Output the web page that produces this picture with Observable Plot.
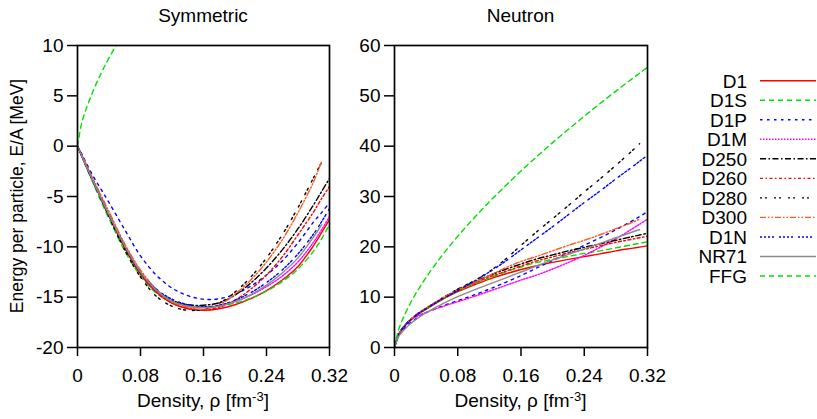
<!DOCTYPE html>
<html><head><meta charset="utf-8">
<script src="https://cdn.jsdelivr.net/npm/d3@7"></script>
<script src="https://cdn.jsdelivr.net/npm/@observablehq/plot@0.6"></script>
<style>
body{margin:0;background:#fff;}
#chart{position:relative;width:817px;height:419px;font-family:"Liberation Sans",Arial,Helvetica,sans-serif;}
#chart svg{position:absolute;top:0;overflow:visible;}
</style></head><body><div id="chart"></div>
<script>
// ---- data ----
const density = [0, 0.005, 0.01, 0.02, 0.03, 0.04, 0.06, 0.08, 0.10, 0.12, 0.14, 0.16, 0.18, 0.20, 0.22, 0.24, 0.26, 0.28, 0.30, 0.31, 0.32];
const models = ["D1","D1S","D1P","D1M","D250","D260","D280","D300","D1N","NR71","FFG"];
const xTicks = [0, 0.08, 0.16, 0.24, 0.32];
const symTicks = [-20, -15, -10, -5, 0, 5, 10];
const neuTicks = [0, 10, 20, 30, 40, 50, 60];

// Symmetric matter E/A [MeV]
const symD1   = [0, -0.9, -1.8, -3.5, -5.2, -6.9, -10.1, -12.7, -14.5, -15.6, -16.15, -16.3, -16.15, -15.75, -15.15, -14.35, -13.3, -11.95, -9.85, -8.6, -7.3];
const symD1S  = [0, -0.9, -1.9, -3.7, -5.5, -7.2, -10.4, -12.9, -14.6, -15.5, -15.9, -16.0, -15.9, -15.6, -15.1, -14.4, -13.45, -12.2, -10.4, -9.2, -7.8];
const symD1P  = [0, -0.7, -1.5, -3.0, -4.3, -5.6, -8.3, -10.9, -12.8, -14.1, -14.85, -15.2, -15.15, -14.7, -13.9, -12.8, -11.4, -9.6, -7.5, -6.6, -5.6];
const symD1M  = [0, -0.9, -1.8, -3.5, -5.2, -6.9, -10.0, -12.6, -14.4, -15.4, -15.9, -16.0, -15.85, -15.45, -14.8, -13.95, -12.9, -11.5, -9.5, -8.3, -7.0];
const symD250 = [0, -0.9, -1.8, -3.5, -5.2, -6.9, -10.0, -12.6, -14.3, -15.3, -15.75, -15.8, -15.55, -14.8, -13.6, -12.1, -10.3, -8.2, -5.8, -4.5, -3.2];
const symD260 = [0, -0.9, -1.8, -3.5, -5.2, -6.9, -10.1, -12.7, -14.5, -15.6, -16.1, -16.25, -16.0, -15.3, -14.2, -12.8, -11.0, -8.8, -6.5, -5.2, -4.0];
const symD280 = [0, -0.9, -1.8, -3.6, -5.3, -7.0, -10.3, -13.0, -14.9, -15.9, -16.3, -16.2, -15.6, -14.5, -13.0, -11.1, -8.8, -6.1, -3.1, -1.6, null];
const symD300 = [0, -0.8, -1.6, -3.3, -4.9, -6.5, -9.7, -12.3, -14.2, -15.4, -16.0, -16.2, -15.75, -14.7, -13.3, -11.5, -9.3, -6.6, -3.5, -1.5, null];
const symD1N  = [0, -0.9, -1.8, -3.5, -5.2, -6.8, -9.9, -12.5, -14.2, -15.2, -15.75, -15.95, -15.8, -15.3, -14.55, -13.55, -12.3, -10.7, -8.7, -7.5, -6.2];
const symNR71 = [0, -0.9, -1.8, -3.5, -5.2, -6.8, -9.9, -12.5, -14.3, -15.4, -15.9, -16.05, -15.9, -15.45, -14.75, -13.8, -12.6, -11.1, -9.0, -7.8, null];
const symFFG  = [0, 2.19, 3.48, 5.52, 7.24, 8.77, 11.49, null, null, null, null, null, null, null, null, null, null, null, null, null, null];

// Neutron matter E/A [MeV]
const neuD1   = [0, 2.4, 3.7, 5.4, 6.6, 7.6, 9.5, 11.1, 12.4, 13.6, 14.6, 15.5, 16.25, 16.9, 17.5, 18.05, 18.6, 19.2, 19.7, 19.95, 20.2];
const neuD1S  = [0, 2.4, 3.7, 5.4, 6.6, 7.6, 9.5, 11.2, 12.6, 13.8, 15.0, 16.0, 16.9, 17.5, 18.1, 18.7, 19.2, 19.8, 20.4, 20.7, 21.0];
const neuD1P  = [0, 2.2, 3.4, 4.9, 6.0, 6.9, 8.2, 9.3, 10.4, 11.6, 12.9, 14.3, 15.8, 17.3, 18.8, 20.3, 21.8, 23.4, 25.1, 26.0, 27.0];
const neuD1M  = [0, 2.6, 3.8, 5.4, 6.3, 7.0, 8.1, 9.1, 10.1, 11.2, 12.3, 13.4, 14.4, 15.6, 16.9, 18.3, 19.9, 21.6, 23.5, 24.5, 25.5];
const neuD250 = [0, 2.4, 3.8, 5.5, 6.8, 7.8, 9.7, 11.5, 13.0, 14.3, 15.5, 16.6, 17.6, 18.4, 19.2, 19.9, 20.6, 21.3, 22.0, 22.35, 22.7];
const neuD260 = [0, 2.4, 3.7, 5.4, 6.7, 7.7, 9.6, 11.3, 12.7, 14.0, 15.1, 16.2, 17.2, 18.0, 18.8, 19.5, 20.2, 20.9, 21.5, 21.8, 22.1];
const neuD280 = [0, 2.4, 3.8, 5.5, 6.8, 7.8, 9.8, 11.6, 13.2, 15.1, 17.5, 20.3, 23.0, 25.6, 28.2, 30.9, 33.5, 36.2, 39.0, 40.5, null];
const neuD300 = [0, 2.4, 3.8, 5.5, 6.8, 7.8, 9.8, 11.4, 12.9, 14.3, 15.8, 17.1, 18.1, 19.2, 20.3, 21.3, 22.4, 23.6, 24.8, 25.5, null];
const neuD1N  = [0, 2.4, 3.7, 5.4, 6.7, 7.7, 9.6, 11.3, 13.1, 15.0, 17.1, 19.4, 21.7, 24.0, 26.4, 28.8, 31.1, 33.5, 35.8, 37.0, 38.2];
const neuNR71 = [0, 2.1, 3.1, 4.7, 5.9, 6.9, 8.6, 10.1, 11.4, 12.6, 13.8, 15.0, 16.2, 17.4, 18.5, 19.6, 20.7, 21.8, 22.9, 23.4, null];
const neuFFG  = [0, 3.48, 5.52, 8.77, 11.49, 13.92, 18.24, 22.09, 25.63, 28.95, 32.08, 35.07, 37.93, 40.70, 43.36, 45.95, 48.47, 50.93, 53.32, 54.50, 55.67];

const symSeries = {D1: symD1, D1S: symD1S, D1P: symD1P, D1M: symD1M, D250: symD250, D260: symD260, D280: symD280, D300: symD300, D1N: symD1N, NR71: symNR71, FFG: symFFG};
const neuSeries = {D1: neuD1, D1S: neuD1S, D1P: neuD1P, D1M: neuD1M, D250: neuD250, D260: neuD260, D280: neuD280, D300: neuD300, D1N: neuD1N, NR71: neuNR71, FFG: neuFFG};

// ---- styles ----
const lineStyle = {
  D1:   {stroke: "#ff0000", dash: null},
  D1S:  {stroke: "#00e000", dash: "5,4"},
  D1P:  {stroke: "#0000ff", dash: "2.5,4.5"},
  D1M:  {stroke: "#ff00ff", dash: "1.5,1.5"},
  D250: {stroke: "#000000", dash: "6,2.5,1.5,2.5"},
  D260: {stroke: "#ff0000", dash: "3,2.5,1.5,2.5"},
  D280: {stroke: "#000000", dash: "2,3,2,7"},
  D300: {stroke: "#ff5a1e", dash: "6,2,1.5,2,1.5,2"},
  D1N:  {stroke: "#0000ff", dash: "2,2,2,2,2,2,2,5"},
  NR71: {stroke: "#8c8c8c", dash: null},
  FFG:  {stroke: "#00e000", dash: "5,4"}
};
const FONT = '"Liberation Sans", Arial, Helvetica, sans-serif';
const chart = document.getElementById("chart");

function panel({series, yDomain, yTicks, left, width, marginLeft, marginRight, title, yLabel}) {
  const marks = [];
  for (const m of models) {
    const rows = [];
    series[m].forEach((v, i) => { if (v != null) rows.push({rho: density[i], E: v}); });
    const st = lineStyle[m];
    marks.push(Plot.line(rows, {x: "rho", y: "E", stroke: st.stroke, strokeWidth: 1.4,
      strokeDasharray: st.dash || undefined, curve: "catmull-rom", clip: true}));
  }
  marks.push(Plot.frame({stroke: "black", strokeWidth: 1.7}));
  marks.push(Plot.axisX({ticks: xTicks, tickFormat: d => String(d), tickSize: 9, tickPadding: 12, label: null, strokeWidth: 1.5}));
  marks.push(Plot.axisY({ticks: yTicks, tickFormat: d => String(d), tickSize: 10, tickPadding: 4, label: null, strokeWidth: 1.5}));
  const svg = Plot.plot({
    width, height: 419, marginLeft, marginRight, marginTop: 45, marginBottom: 72,
    x: {domain: [0, 0.32]}, y: {domain: yDomain},
    style: {fontFamily: FONT, fontSize: "19px", color: "black", background: "transparent"},
    marks
  });
  svg.style.left = left + "px";
  const s = d3.select(svg);
  const cx = (marginLeft + width - marginRight) / 2;
  s.append("text").attr("x", cx).attr("y", 22).attr("text-anchor", "middle")
    .attr("font-family", FONT).attr("font-size", 19).attr("fill", "black").text(title);
  const xl = s.append("text").attr("x", cx).attr("y", 407).attr("text-anchor", "middle")
    .attr("font-family", FONT).attr("font-size", 19).attr("fill", "black");
  xl.append("tspan").text("Density, \u03C1 [fm");
  xl.append("tspan").attr("dy", -6).attr("font-size", 13).text("-3");
  xl.append("tspan").attr("dy", 6).text("]");
  if (yLabel) {
    s.append("text").attr("transform", `translate(23,${(45 + 347) / 2}) rotate(-90)`)
      .attr("text-anchor", "middle").attr("font-family", FONT).attr("font-size", 17.5)
      .attr("fill", "black").text(yLabel);
  }
  chart.appendChild(svg);
}

panel({series: symSeries, yDomain: [-20, 10], yTicks: symTicks, left: 0, width: 340,
  marginLeft: 77, marginRight: 11, title: "Symmetric", yLabel: "Energy per particle, E/A [MeV]"});
panel({series: neuSeries, yDomain: [0, 60], yTicks: neuTicks, left: 340, width: 340,
  marginLeft: 54, marginRight: 33, title: "Neutron", yLabel: null});

// ---- legend ----
const lg = d3.select(chart).append("svg").attr("width", 157).attr("height", 419)
  .style("left", "660px").style("position", "absolute").style("top", "0px");
const rowY = d3.scalePoint().domain(models).range([80.7, 276]);
for (const m of models) {
  const y = rowY(m), st = lineStyle[m];
  lg.append("text").attr("x", 87).attr("y", y).attr("dy", "0.36em").attr("text-anchor", "end")
    .attr("font-family", FONT).attr("font-size", 19).attr("fill", "black").text(m);
  lg.append("line").attr("x1", 100).attr("x2", 156).attr("y1", y).attr("y2", y)
    .attr("stroke", st.stroke).attr("stroke-width", 1.4).attr("stroke-dasharray", st.dash);
}
</script></body></html>
